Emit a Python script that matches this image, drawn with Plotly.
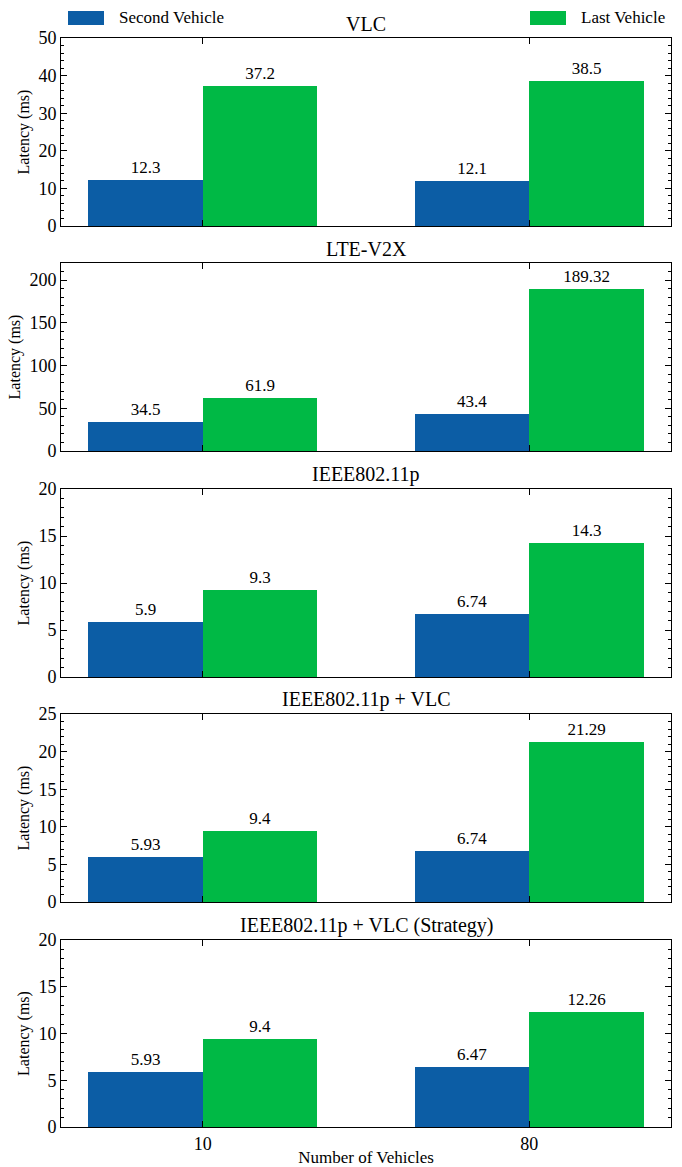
import plotly.graph_objects as go

# ---- data ----
categories = ["10", "80"]
panel_titles = ["VLC", "LTE-V2X", "IEEE802.11p", "IEEE802.11p + VLC", "IEEE802.11p + VLC (Strategy)"]
second_vehicle = [[12.3, 12.1], [34.5, 43.4], [5.9, 6.74], [5.93, 6.74], [5.93, 6.47]]
last_vehicle = [[37.2, 38.5], [61.9, 189.32], [9.3, 14.3], [9.4, 21.29], [9.4, 12.26]]
second_labels = [["12.3", "12.1"], ["34.5", "43.4"], ["5.9", "6.74"], ["5.93", "6.74"], ["5.93", "6.47"]]
last_labels = [["37.2", "38.5"], ["61.9", "189.32"], ["9.3", "14.3"], ["9.4", "21.29"], ["9.4", "12.26"]]
y_max = [50, 220, 20, 25, 20]
y_dtick = [10, 50, 5, 5, 5]
y_minor = [2, 10, 1, 1, 1]
series_names = ["Second Vehicle", "Last Vehicle"]

BLUE = "#0C5DA5"
GREEN = "#00B945"
FONT = "Liberation Serif, Times New Roman, DejaVu Serif, serif"

W, H = 682, 1167
L, R, T, B = 61, 11, 38, 40
plot_h = H - T - B
panel_tops = [38, 263, 489, 714, 940]
panel_h = 188

def py(pix):
    return 1 - (pix - T) / plot_h

def px(pix):
    return (pix - L) / (W - L - R)

def clamp(v):
    return min(1.0, max(0.0, v))

fig = go.Figure()
xpos = list(range(len(categories)))
annotations = []
for i in range(5):
    n = "" if i == 0 else str(i + 1)
    fig.add_trace(go.Bar(x=xpos, y=second_vehicle[i], width=0.35, offset=-0.35,
                         marker=dict(color=BLUE, line=dict(width=0)),
                         text=second_labels[i], textposition="outside", cliponaxis=False,
                         textfont=dict(family=FONT, size=17, color="black"),
                         name=series_names[0], showlegend=False,
                         xaxis="x" + n, yaxis="y" + n))
    fig.add_trace(go.Bar(x=xpos, y=last_vehicle[i], width=0.35, offset=0,
                         marker=dict(color=GREEN, line=dict(width=0)),
                         text=last_labels[i], textposition="outside", cliponaxis=False,
                         textfont=dict(family=FONT, size=17, color="black"),
                         name=series_names[1], showlegend=False,
                         xaxis="x" + n, yaxis="y" + n))
    top = panel_tops[i]
    dom = [clamp(py(top + panel_h)), clamp(py(top))]
    fig.layout["xaxis" + n] = dict(
        domain=[0, 1], anchor="y" + n, range=[-0.434, 1.434], automargin=False,
        tickvals=xpos, ticktext=categories, showticklabels=(i == 4),
        ticks="inside", ticklen=6, tickcolor="black", mirror="ticks",
        showline=True, linecolor="black", linewidth=1, showgrid=False, zeroline=False,
        tickfont=dict(family=FONT, size=18, color="black"),
        title=dict(text="Number of Vehicles" if i == 4 else "",
                   font=dict(family=FONT, size=17, color="black"), standoff=3),
    )
    fig.layout["yaxis" + n] = dict(
        domain=dom, anchor="x" + n, range=[0, y_max[i]], dtick=y_dtick[i], tick0=0,
        automargin=False,
        ticks="inside", ticklen=6, tickcolor="black", mirror="ticks",
        showline=True, linecolor="black", linewidth=1, showgrid=False, zeroline=False,
        minor=dict(dtick=y_minor[i], ticks="inside", ticklen=3, tickcolor="black", showgrid=False),
        tickfont=dict(family=FONT, size=18, color="black"),
        title=dict(text="Latency (ms)", font=dict(family=FONT, size=16, color="black"), standoff=4),
    )
    annotations.append(dict(text=panel_titles[i], x=0.5, y=clamp(py(top)), xref="paper", yref="paper",
                            xanchor="center", yanchor="bottom", yshift=1, showarrow=False,
                            font=dict(family=FONT, size=20, color="black")))

# custom legend
shapes = [
    dict(type="rect", xref="paper", yref="paper", x0=px(68), x1=px(104), y0=py(25), y1=py(11),
         fillcolor=BLUE, line=dict(width=0)),
    dict(type="rect", xref="paper", yref="paper", x0=px(530), x1=px(566), y0=py(25), y1=py(11),
         fillcolor=GREEN, line=dict(width=0)),
]
annotations.append(dict(text=series_names[0], x=px(117), y=py(18), xref="paper", yref="paper",
                        xanchor="left", yanchor="middle", showarrow=False,
                        font=dict(family=FONT, size=17, color="black")))
annotations.append(dict(text=series_names[1], x=px(579), y=py(18), xref="paper", yref="paper",
                        xanchor="left", yanchor="middle", showarrow=False,
                        font=dict(family=FONT, size=17, color="black")))

fig.update_layout(width=W, height=H, margin=dict(l=L, r=R, t=T, b=B, autoexpand=False),
                  paper_bgcolor="white", plot_bgcolor="white", showlegend=False,
                  annotations=annotations, shapes=shapes, bargap=0,
                  font=dict(family=FONT, color="black"))
fig.write_html("out.html", config={"displayModeBar": False},
               post_script="document.body.style.margin='0';document.body.style.overflow='hidden';")
